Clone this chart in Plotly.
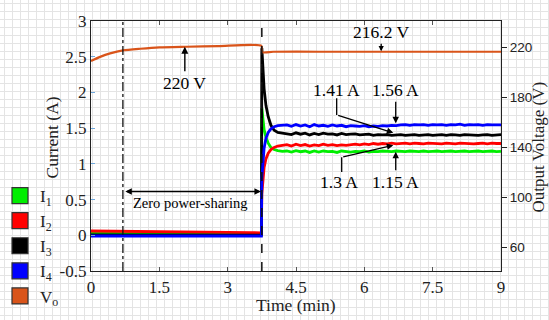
import plotly.graph_objects as go

# ---------------- data ----------------
t_pre = [0, 0.5, 1.0, 1.5, 2.0, 2.5, 3.0, 3.5, 3.74]
t_tr = [3.75, 3.77, 3.8, 3.84, 3.89, 3.95, 4.02, 4.1, 4.2]
t_ss = [4.3, 4.4, 4.5, 4.6, 4.7, 4.8, 4.9, 5.0, 5.1, 5.2, 5.3, 5.4, 5.5, 5.6, 5.7, 5.8,
        5.9, 6.0, 6.1, 6.2, 6.3, 6.4, 6.5, 6.6, 6.7, 6.8, 6.9, 7.0, 7.1, 7.2, 7.3, 7.4,
        7.5, 7.6, 7.7, 7.8, 7.9, 8.0, 8.1, 8.2, 8.3, 8.4, 8.5, 8.6, 8.7, 8.8, 8.9, 9.0]

i1_pre = [0.03, 0.025, 0.02, 0.02, 0.015, 0.015, 0.01, 0.01, 0.01]
i1_tr = [1.78, 1.62, 1.48, 1.37, 1.29, 1.23, 1.2, 1.185, 1.175]
i1_ss = [1.18, 1.165, 1.185, 1.17, 1.18, 1.16, 1.18, 1.165, 1.18, 1.17, 1.175, 1.16, 1.18, 1.17, 1.165, 1.175,
         1.17, 1.18, 1.165, 1.175, 1.17, 1.18, 1.175, 1.17, 1.18, 1.175, 1.17, 1.18, 1.175, 1.17, 1.18, 1.17,
         1.175, 1.18, 1.17, 1.175, 1.18, 1.17, 1.175, 1.18, 1.17, 1.175, 1.18, 1.17, 1.175, 1.18, 1.17, 1.175]

i2_pre = [0.06, 0.055, 0.05, 0.048, 0.045, 0.042, 0.04, 0.037, 0.035]
i2_tr = [0.58, 0.78, 0.95, 1.07, 1.15, 1.20, 1.23, 1.25, 1.26]
i2_ss = [1.27, 1.25, 1.275, 1.255, 1.27, 1.25, 1.265, 1.255, 1.275, 1.26, 1.27, 1.255, 1.265, 1.26, 1.27, 1.275,
         1.265, 1.28, 1.27, 1.285, 1.275, 1.285, 1.28, 1.29, 1.28, 1.285, 1.29, 1.28, 1.29, 1.285, 1.28, 1.29,
         1.285, 1.29, 1.28, 1.29, 1.285, 1.28, 1.29, 1.285, 1.29, 1.28, 1.285, 1.29, 1.28, 1.29, 1.285, 1.285]

i3_pre = [0.005, 0.005, 0.004, 0.004, 0.004, 0.003, 0.003, 0.003, 0.003]
i3_tr = [2.62, 2.35, 2.05, 1.82, 1.66, 1.54, 1.47, 1.44, 1.43]
i3_ss = [1.43, 1.41, 1.435, 1.415, 1.43, 1.405, 1.425, 1.41, 1.43, 1.415, 1.42, 1.405, 1.425, 1.41, 1.415, 1.42,
         1.405, 1.41, 1.415, 1.40, 1.41, 1.405, 1.41, 1.40, 1.405, 1.41, 1.40, 1.405, 1.41, 1.40, 1.405, 1.41,
         1.40, 1.405, 1.41, 1.40, 1.41, 1.405, 1.40, 1.41, 1.405, 1.41, 1.40, 1.405, 1.41, 1.40, 1.405, 1.41]

i4_pre = [-0.01, -0.01, -0.01, -0.01, -0.01, -0.01, -0.01, -0.01, -0.01]
i4_tr = [0.8, 1.02, 1.22, 1.36, 1.44, 1.49, 1.52, 1.535, 1.54]
i4_ss = [1.545, 1.525, 1.55, 1.53, 1.545, 1.52, 1.55, 1.53, 1.54, 1.525, 1.545, 1.53, 1.54, 1.52, 1.535, 1.53,
         1.525, 1.535, 1.52, 1.53, 1.525, 1.535, 1.53, 1.54, 1.535, 1.545, 1.55, 1.54, 1.55, 1.545, 1.55, 1.54,
         1.55, 1.545, 1.55, 1.54, 1.55, 1.545, 1.555, 1.54, 1.55, 1.545, 1.55, 1.54, 1.55, 1.545, 1.55, 1.545]

t_v = [0, 0.2, 0.42, 0.7, 1.08, 1.5, 2.1, 2.8, 3.74, 3.76, 4.0, 5.0, 6.0, 7.0, 8.0, 9.0]
v_o = [209.4, 212.7, 215.5, 217.9, 219.2, 220.3, 220.8, 221.3, 221.6, 216.5, 216.8, 216.8, 216.8, 216.8, 216.8, 216.8]

x_ticks = [0, 1.5, 3, 4.5, 6, 7.5, 9]
y_ticks = [-0.5, 0, 0.5, 1, 1.5, 2, 2.5, 3]
y_ticktext = ["-0.5", "0", "0.5", "1", "1.5", "2", "2.5", "3"]
v_ticks = [60, 100, 140, 180, 220]

names = ["I<sub>1</sub>", "I<sub>2</sub>", "I<sub>3</sub>", "I<sub>4</sub>", "V<sub>o</sub>"]
colors = ["#00ee00", "#ff0000", "#000000", "#0000ff", "#d9541a"]

for a in (i1_ss, i2_ss, i3_ss, i4_ss):
    assert len(a) == len(t_ss)

t_i = t_pre + t_tr + t_ss
currents = [i1_pre + i1_tr + i1_ss, i2_pre + i2_tr + i2_ss,
            i3_pre + i3_tr + i3_ss, i4_pre + i4_tr + i4_ss]

SERIF = "Liberation Serif"
SANS = "Liberation Sans"

fig = go.Figure()
for k, cur in enumerate(currents):
    fig.add_trace(go.Scatter(x=t_i, y=cur, mode="lines", showlegend=False,
                             line=dict(color=colors[k], width=2.8)))
fig.add_trace(go.Scatter(x=t_v, y=v_o, mode="lines", yaxis="y2", showlegend=False,
                         line=dict(color=colors[4], width=2.2, shape="spline", smoothing=0.6)))

# legend entries (square swatches)
for k in range(5):
    fig.add_trace(go.Scatter(x=[None], y=[None], mode="markers", name=names[k],
                             marker=dict(symbol="square", size=16, color=colors[k],
                                         line=dict(color="#333333", width=1.2))))

# ---------------- graph-paper background ----------------
L, R, T, B = 91, 48, 21, 49
W, H = 549, 320
pw, ph = W - L - R, H - T - B
def px2paper_x(px):
    return (px - L) / pw
def py2paper_y(py):
    return (H - B - py) / ph
path = ""
for px in range(4, W, 8):
    xp = px2paper_x(px + 0.5)
    path += f"M{xp:.5f},{py2paper_y(0):.5f}L{xp:.5f},{py2paper_y(H):.5f}"
for py in range(3, H, 8):
    yp = py2paper_y(py + 0.5)
    path += f"M{px2paper_x(0):.5f},{yp:.5f}L{px2paper_x(W):.5f},{yp:.5f}"

shapes = [
    dict(type="path", path=path, xref="paper", yref="paper", layer="below",
         line=dict(color="#e4e4e4", width=1)),
    dict(type="line", xref="x", yref="paper", x0=0.7, x1=0.7, y0=0, y1=1,
         line=dict(color="#111111", width=1.3, dash="dashdot")),
    dict(type="line", xref="x", yref="paper", x0=3.75, x1=3.75, y0=0, y1=1,
         line=dict(color="#111111", width=1.5, dash="dash")),
    # connector vertical segments
    dict(type="line", xref="x", yref="y", x0=5.393, x1=5.393, y0=1.92, y1=1.684,
         line=dict(color="black", width=1.3)),
    dict(type="line", xref="x", yref="y", x0=5.503, x1=5.503, y0=0.886, y1=1.092,
         line=dict(color="black", width=1.3)),
]

tf = dict(family=SERIF, size=17.5, color="black")
ttl = dict(family=SERIF, size=17.5, color="#222222")
ann = [
    dict(x=2.06, y=220.8, xref="x", yref="y2", text="220 V", showarrow=True, ax=0, ay=36,
         arrowhead=2, arrowsize=1, arrowwidth=1.4, arrowcolor="black", font=tf),
    dict(x=6.37, y=217.2, xref="x", yref="y2", text="216.2 V", showarrow=True, ax=0, ay=-19,
         arrowhead=2, arrowsize=0.8, arrowwidth=1.3, arrowcolor="black", font=tf),
    dict(x=5.378, y=2.034, xref="x", yref="y", text="1.41 A", showarrow=False, font=tf),
    dict(x=6.636, y=1.435, xref="x", yref="y", ax=5.393, ay=1.684, axref="x", ayref="y",
         text="", showarrow=True, arrowhead=2, arrowsize=1, arrowwidth=1.3, arrowcolor="black"),
    dict(x=6.689, y=1.57, xref="x", yref="y", text="1.56 A", showarrow=True, ax=0, ay=-33,
         arrowhead=2, arrowsize=1, arrowwidth=1.3, arrowcolor="black", font=tf),
    dict(x=5.444, y=0.753, xref="x", yref="y", text="1.3 A", showarrow=False, font=tf),
    dict(x=6.636, y=1.262, xref="x", yref="y", ax=5.503, ay=1.092, axref="x", ayref="y",
         text="", showarrow=True, arrowhead=2, arrowsize=1, arrowwidth=1.3, arrowcolor="black"),
    dict(x=6.689, y=1.168, xref="x", yref="y", text="1.15 A", showarrow=True, ax=0, ay=30,
         arrowhead=2, arrowsize=1, arrowwidth=1.3, arrowcolor="black", font=tf),
    dict(x=3.73, y=0.613, xref="x", yref="y", ax=0.72, ay=0.613, axref="x", ayref="y",
         text="", showarrow=True, arrowhead=2, arrowside="end+start", arrowsize=1,
         arrowwidth=1.3, arrowcolor="black"),
    dict(x=2.18, y=0.452, xref="x", yref="y", text="Zero power-sharing", showarrow=False,
         font=dict(family=SERIF, size=14.5, color="black")),
    dict(x=px2paper_x(538), y=py2paper_y(147.5), xref="paper", yref="paper",
         xanchor="center", yanchor="middle",
         text="Output Voltage (V)", textangle=-90, showarrow=False,
         font=dict(family=SERIF, size=17, color="#222222")),
    dict(x=px2paper_x(51), y=py2paper_y(137.5), xref="paper", yref="paper",
         xanchor="center", yanchor="middle",
         text="Current (A)", textangle=-90, showarrow=False, font=ttl),
    dict(x=px2paper_x(296), y=py2paper_y(305), xref="paper", yref="paper",
         xanchor="center", yanchor="middle",
         text="Time (min)", showarrow=False, font=ttl),
]

fig.update_layout(
    width=W, height=H, autosize=False,
    margin=dict(l=L, r=R, t=T, b=B, pad=0, autoexpand=False),
    paper_bgcolor="white", plot_bgcolor="rgba(0,0,0,0)",
    font=dict(family=SERIF, size=17, color="#222222"),
    shapes=shapes, annotations=ann,
    legend=dict(x=px2paper_x(0), y=py2paper_y(178), xanchor="left", yanchor="top",
                bgcolor="rgba(0,0,0,0)", font=dict(family=SERIF, size=17, color="#222222"),
                tracegroupgap=0, itemsizing="trace"),
    xaxis=dict(range=[0, 9], tickvals=x_ticks, ticktext=[str(v) for v in x_ticks],
               ticks="inside", ticklen=4, tickcolor="#555555", showline=True,
               linecolor="#222222", linewidth=1.2, mirror="ticks", showgrid=False,
               zeroline=False, automargin=False,
               tickfont=dict(family=SERIF, size=17, color="#222222")),
    yaxis=dict(range=[-0.5, 3], tickvals=y_ticks, ticktext=y_ticktext,
               ticks="inside", ticklen=4, tickcolor="#6fa8dc", showline=True,
               linecolor="#222222", linewidth=1.2, showgrid=False, zeroline=False,
               automargin=False, tickfont=dict(family=SERIF, size=17, color="#222222")),
    yaxis2=dict(range=[41.4, 241.4], tickvals=v_ticks, overlaying="y", side="right",
                ticks="outside", ticklen=5, tickcolor="#222222", showline=True,
                linecolor="#222222", linewidth=1.2, showgrid=False, zeroline=False,
                automargin=False, tickfont=dict(family=SANS, size=13.5, color="#222222")),
)

fig.write_html("out.html")
